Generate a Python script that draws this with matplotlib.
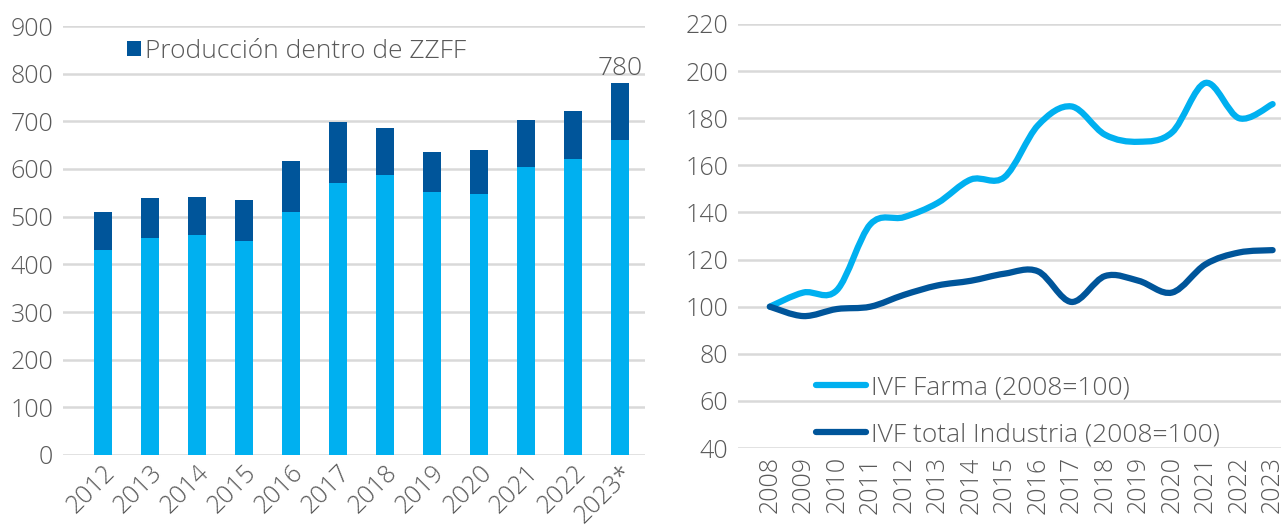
import numpy as np
import matplotlib.pyplot as plt
from matplotlib.path import Path
from matplotlib.patches import PathPatch
from matplotlib.lines import Line2D

plt.rcParams['font.family'] = ['Open Sans', 'DejaVu Sans']
plt.rcParams['font.weight'] = 'light'

years_bar = ['2012', '2013', '2014', '2015', '2016', '2017', '2018', '2019',
             '2020', '2021', '2022', '2023*']
total = [510, 540, 541, 535, 617, 698, 685, 636, 640, 702, 721, 780]
fuera = [430, 455, 462, 448, 510, 571, 588, 551, 548, 605, 620, 660]

years_line = list(range(2008, 2024))
farma = [100, 106, 107, 135, 138, 144, 154, 155, 177, 185, 173, 170, 174, 195, 180, 186]
industria = [100, 96, 99, 100, 105, 109, 111, 114, 115, 102, 113, 111, 106, 118, 123, 124]

light = '#00B0F0'
dark = '#00559A'
grey = '#595959'
grid = '#D9D9D9'
fs = 18
lfs = 19

fig = plt.figure(figsize=(12.81, 5.26), dpi=100)

# left: stacked bars
ax1 = fig.add_axes([63 / 1281, 1 - 455 / 526, 582 / 1281, 429 / 526])
x = np.arange(len(years_bar))
dentro = np.array(total) - np.array(fuera)
ax1.bar(x, fuera, width=0.4, color=light, zorder=2)
ax1.bar(x, dentro, bottom=fuera, width=0.4, color=dark, zorder=2,
        label='Producción dentro de ZZFF')
ax1.set_ylim(0, 900)
ax1.set_xlim(-0.85, 11.53)
ax1.set_yticks(range(0, 901, 100))
ax1.set_xticks(x)
ax1.set_xticklabels(years_bar, rotation=45, ha='right', rotation_mode='anchor')
ax1.text(x[-1], total[-1] + 4, str(total[-1]), ha='center', va='bottom',
         fontsize=lfs, color=grey)
ax1.legend(loc='upper left', bbox_to_anchor=(0.07, 1.025), frameon=False,
           fontsize=lfs, labelcolor=grey, handlelength=0.5, handleheight=0.5,
           handletextpad=0.15)

# right: smoothed lines
ax2 = fig.add_axes([738 / 1281, 1 - 448 / 526, 543 / 1281, 424 / 526])


def smooth_path(xs, ys):
    xs = np.asarray(xs, float)
    ys = np.asarray(ys, float)
    pts = np.column_stack([xs, ys])
    verts = [pts[0]]
    codes = [Path.MOVETO]
    n = len(pts)
    for i in range(n - 1):
        p0 = pts[max(i - 1, 0)]
        p1 = pts[i]
        p2 = pts[i + 1]
        p3 = pts[min(i + 2, n - 1)]
        c1 = p1 + (p2 - p0) / 6
        c2 = p2 - (p3 - p1) / 6
        verts += [c1, c2, p2]
        codes += [Path.CURVE4] * 3
    return Path(verts, codes)


for ys, col in [(farma, light), (industria, dark)]:
    ax2.add_patch(PathPatch(smooth_path(years_line, ys), fill=False,
                            edgecolor=col, lw=4.5, capstyle='round', zorder=3))
ax2.set_xlim(2007.05, 2023.25)
ax2.set_ylim(40, 220)
ax2.set_yticks(range(40, 221, 20))
ax2.set_xticks(years_line)
ax2.set_xticklabels([str(y) for y in years_line], rotation=90)
handles = [Line2D([], [], color=light, lw=4.5, solid_capstyle='round'),
           Line2D([], [], color=dark, lw=4.5, solid_capstyle='round')]
ax2.legend(handles, ['IVF Farma (2008=100)', 'IVF total Industria (2008=100)'],
           loc='lower left', bbox_to_anchor=(0.1, -0.055), frameon=False,
           fontsize=lfs, labelcolor=grey, handlelength=1.9, handletextpad=0.2,
           labelspacing=0.85)

for ax in (ax1, ax2):
    ax.grid(axis='y', color=grid, lw=1.8, zorder=0)
    ax.set_axisbelow(True)
    for s in ax.spines.values():
        s.set_visible(False)
    ax.tick_params(length=0, labelsize=fs, colors=grey)
    ax.tick_params(axis='y', pad=7)
ax1.tick_params(axis='x', pad=4)
ax2.tick_params(axis='x', pad=6)

fig.savefig('out.png', dpi=100)
